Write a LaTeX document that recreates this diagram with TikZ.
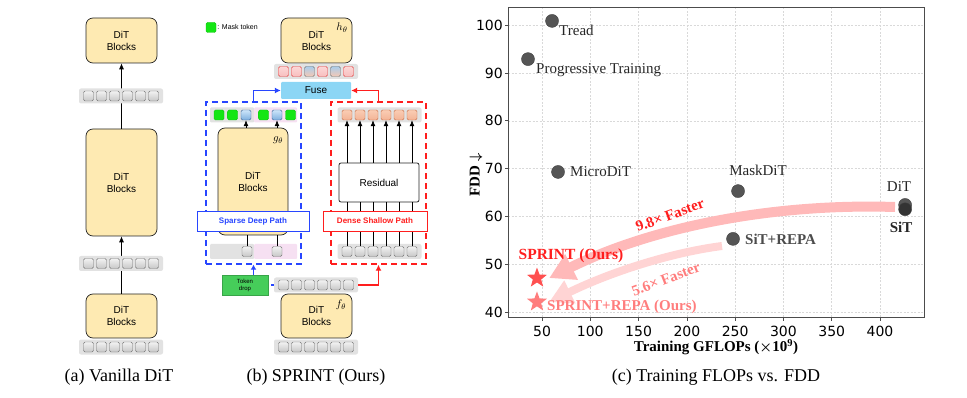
\documentclass[tikz,border=0pt]{standalone}
\usepackage{amsmath,amssymb}
\usepackage{fontspec}
\setmainfont{Liberation Serif}
\setsansfont{Liberation Sans}
\newfontfamily\tickfont{DejaVu Sans}
\usetikzlibrary{arrows.meta,calc,shapes.geometric}

\definecolor{ditfill}{RGB}{254,234,178}
\definecolor{rowgray}{RGB}{226,226,226}
\definecolor{pathblue}{RGB}{40,70,255}
\definecolor{pathred}{RGB}{255,30,30}
\definecolor{fusefill}{RGB}{140,214,245}
\definecolor{maskgreen}{RGB}{20,230,20}
\definecolor{dropgreen}{RGB}{70,205,90}
\definecolor{pinkbg}{RGB}{246,224,242}
\definecolor{dotgray}{RGB}{85,85,85}
\definecolor{arrowpink}{RGB}{255,185,185}
\definecolor{arrowlight}{RGB}{255,212,212}
\definecolor{sprintred}{RGB}{255,80,80}
\definecolor{repapink}{RGB}{255,125,125}

\tikzset{
  dit/.style={draw=black!85, fill=ditfill, rounded corners=7pt, line width=0.7pt,
    align=center, inner sep=0pt, minimum width=71pt,
    font=\sffamily\fontsize{10}{12}\selectfont},
  rowbg/.style={fill=rowgray, rounded corners=2pt, inner sep=0pt,
    minimum width=84pt, minimum height=15pt},
  tok/.style={draw=black!55, rounded corners=1.5pt, inner sep=0pt, minimum size=10pt,
    top color=white!95!black, bottom color=black!22},
  masktok/.style={tok, draw=maskgreen!85!black, top color=maskgreen, bottom color=maskgreen},
  bluetok/.style={tok, draw={rgb,255:red,60;green,100;blue,150},
    top color={rgb,255:red,205;green,230;blue,250}, bottom color={rgb,255:red,125;green,175;blue,222}},
  redtok/.style={tok, draw={rgb,255:red,225;green,60;blue,60},
    top color={rgb,255:red,252;green,215;blue,215}, bottom color={rgb,255:red,248;green,190;blue,190}},
  mixtok/.style={tok, draw=black!55,
    top color={rgb,255:red,170;green,205;blue,235}, bottom color={rgb,255:red,245;green,200;blue,180}},
  orangetok/.style={tok, draw={rgb,255:red,200;green,110;blue,70},
    top color={rgb,255:red,250;green,205;blue,180}, bottom color={rgb,255:red,243;green,180;blue,150}},
  flow/.style={-{Latex[length=6pt,width=5pt]}, line width=0.7pt},
  dashbox/.style={dashed, dash pattern=on 6pt off 4pt, line width=1.4pt, inner sep=0pt,
    minimum width=95pt, minimum height=162pt},
  pathlab/.style={fill=white, line width=0.8pt, inner sep=0pt, minimum height=20pt,
    font=\sffamily\bfseries\fontsize{8}{10}\selectfont},
  caption/.style={font=\fontsize{18}{20}\selectfont},
  grid/.style={dashed, dash pattern=on 2pt off 1.5pt, black!15, line width=0.5pt},
  ticklab/.style={font=\tickfont\fontsize{14}{16}\selectfont, inner sep=0pt},
  plotlab/.style={font=\fontsize{15}{17}\selectfont, text=black!85, inner sep=0pt},
  dot/.style={circle, fill=dotgray, draw=black!75, line width=0.4pt, minimum size=13pt, inner sep=0pt},
  starpt/.style={star, star points=5, star point ratio=2.4, minimum size=21pt, inner sep=0pt},
}

\begin{document}
\begin{tikzpicture}[x=1pt,y=-1pt]
\useasboundingbox (0,0) rectangle (967,398);

% ---------------- (a) Vanilla DiT ----------------
\node[dit, minimum height=45pt] (a3) at (121.5,40.5) {DiT\\Blocks};
\node[dit, minimum height=107pt] (a2) at (121.5,182.5) {DiT\\Blocks};
\node[dit, minimum height=44pt] (a1) at (121.5,316) {DiT\\Blocks};
\draw[flow] (a1) -- (a2);
\draw[flow] (a2) -- (a3);

% token rows
\foreach \r/\yy in {2/96, 1/263.5, 0/347} {
  \node[rowbg] (ra\r) at (121,\yy) {};
  \foreach \k in {1,...,6}
    \node[tok] (ta\r-\k) at ({121+(\k-3.5)*13},\yy) {};
}
\node[caption] (capa) at (119,377) {(a) Vanilla DiT};

% ---------------- (b) SPRINT ----------------
% legend
\node[masktok] (leg) at (211,27.5) {};
\node[anchor=west, font=\sffamily\fontsize{7}{8}\selectfont, inner sep=1pt] (legtxt) at (leg.east) {: Mask token};

% top block and fused tokens
\node[dit, minimum height=45pt] (h) at (316.5,40.5) {DiT\\Blocks};
\node[font=\fontsize{11}{12}\selectfont] (hlab) at (342,28) {$h_\theta$};
\node[rowbg] (rh) at (316,71.5) {};
\foreach \k/\s in {1/redtok,2/redtok,3/mixtok,4/redtok,5/mixtok,6/redtok}
  \node[\s] (th\k) at ({316+(\k-3.5)*13},71.5) {};
\node[fill=fusefill, rounded corners=1pt, minimum width=70pt, minimum height=17pt, inner sep=0pt,
  font=\sffamily\fontsize{10}{12}\selectfont] (fuse) at (316,90.5) {Fuse};

% dashed paths
\node[dashbox, draw=pathblue] (sbox) at (253.5,183) {};
\node[dashbox, draw=pathred] (dbox) at (378.5,183) {};
\draw[pathblue, line width=1.6pt, -{Latex[length=6pt,width=6pt]}] (sbox.north) |- (fuse.west);
\draw[pathred, line width=1.6pt, -{Latex[length=6pt,width=6pt]}] (dbox.north) |- (fuse.east);

% sparse deep path
\node[dit, minimum width=70pt, minimum height=107pt] (g) at (253,181.5) {DiT\\Blocks};
\node[font=\fontsize{11}{12}\selectfont] (glab) at (278,140) {$g_\theta$};
\node[rowbg, minimum width=44pt, rounded corners=1pt] (rgl) at (232,115) {};
\node[rowbg, fill=pinkbg, minimum width=43pt, rounded corners=1pt] (rgr) at (275.5,115) {};
\foreach \k/\xx/\s in {1/219/masktok,2/232.5/masktok,3/246/bluetok,4/263.5/masktok,5/277/bluetok,6/290.5/masktok}
  \node[\s] (tg\k) at (\xx,115) {};
\draw[flow] (tg3 |- g.north) -- (tg3.south);
\draw[flow] (tg5 |- g.north) -- (tg5.south);
\node[rowbg, minimum width=44pt, rounded corners=1pt] (rsl) at (232,251.5) {};
\node[rowbg, fill=pinkbg, minimum width=43pt, rounded corners=1pt] (rsr) at (275.5,251.5) {};
\node[tok] (ts1) at (247,251.5) {};
\node[tok] (ts2) at (277,251.5) {};
\draw[line width=0.7pt] (ts1.north) -- (ts1 |- g.south);
\draw[line width=0.7pt] (ts2.north) -- (ts2 |- g.south);
\node[pathlab, draw=pathblue, text=pathblue, minimum width=112pt] (sparse) at (253,221) {Sparse Deep Path};

% dense shallow path
\node[draw=black!85, fill=white, rounded corners=2pt, line width=0.8pt, minimum width=80pt,
  minimum height=39pt, font=\sffamily\fontsize{10}{12}\selectfont] (res) at (379,182.5) {Residual};
\node[rowbg] (ro) at (379.5,115) {};
\node[rowbg] (rl) at (379.5,251.5) {};
\foreach \k in {1,...,6} {
  \node[orangetok] (to\k) at ({379.5+(\k-3.5)*13},115) {};
  \node[tok] (tl\k) at ({379.5+(\k-3.5)*13},251.5) {};
  \draw[flow] (to\k |- res.north) -- (to\k.south);
  \draw[line width=0.7pt] (tl\k.north) -- (tl\k |- res.south);
}
\node[pathlab, draw=pathred, text=pathred, minimum width=104pt] (dense) at (375,221) {Dense Shallow Path};

% first blocks and token drop
\node[rowbg] (rf) at (316,285) {};
\foreach \k in {1,...,6}
  \node[tok] (tf\k) at ({316+(\k-3.5)*13},285) {};
\node[dit, minimum height=44pt] (f) at (316.5,316) {DiT\\Blocks};
\node[font=\fontsize{11}{12}\selectfont] (flab) at (341,305) {$f_\theta$};
\node[rowbg] (rb) at (316,347) {};
\foreach \k in {1,...,6}
  \node[tok] (tb\k) at ({316+(\k-3.5)*13},347) {};
\node[fill=dropgreen, draw=dropgreen!80!black, line width=0.4pt, minimum width=46pt, minimum height=20pt,
  inner sep=0pt, align=center, font=\sffamily\fontsize{6}{7}\selectfont] (drop) at (245,285) {Token\\drop};
\draw[pathblue, dashed, line width=1.3pt] (rf.west) -- (drop.east);
\draw[pathblue, line width=1.4pt, -{Latex[length=5pt,width=6pt]}] (sbox.south |- drop.north) -- (sbox.south);
\draw[pathred, line width=1.6pt, -{Latex[length=6pt,width=6pt]}] (rf.east) -| (dbox.south);
\node[caption] (capb) at (316,377) {(b) SPRINT (Ours)};

% ---------------- (c) FLOPs vs FDD ----------------
\begin{scope}[shift={(493.72,503.2)}, x=0.9657pt, y=4.78pt]
  \foreach \gx in {50,100,...,400} {
    \draw[grid] (\gx,38.95) -- (\gx,103.8);
    \draw[black!70, line width=0.6pt] (\gx,38.95) -- (\gx,38.2);
    \node[ticklab] (xt\gx) at (\gx,36) {\gx};
  }
  \foreach \gy in {40,50,...,100} {
    \draw[grid] (14.8,\gy) -- (445.6,\gy);
    \draw[black!70, line width=0.6pt] (14.8,\gy) -- (11.2,\gy);
    \node[ticklab, anchor=east] (yt\gy) at (9.6,\gy) {\gy};
  }
  \draw[black!70, line width=1pt] (14.8,38.95) rectangle (445.6,103.8);

  % data
  \node[dot] (tread) at (60.4,100.9) {};
  \node[dot] (prog) at (35.5,92.9) {};
  \node[dot] (micro) at (66.6,69.3) {};
  \node[dot] (mask) at (253,65.3) {};
  \node[dot] (repa) at (247.8,55.3) {};
  \node[dot] (dit) at (426,62.4) {};
  \node[dot, fill=black!80] (sit) at (426,61.5) {};
  \node[starpt, fill=sprintred] (sprint) at (44.8,47.1) {};
  \node[starpt, fill=repapink] (sprintrepa) at (44.8,42.1) {};
\end{scope}

% speed-up arrows
\coordinate (fromdit) at (895,207);
\coordinate (fromrepa) at (722,246);
\draw[arrowpink, line width=10pt, -{Triangle[length=25pt,width=27pt]}]
  (fromdit) .. controls (770,203) and (650,228) .. ([xshift=6pt]sprint.east);
\draw[arrowlight, line width=8pt, -{Triangle[length=23pt,width=24pt]}]
  (fromrepa) .. controls (675,252) and (615,270) .. ([xshift=6pt]sprintrepa.east);
\node[font=\bfseries\fontsize{15}{17}\selectfont, text=pathred, rotate=20] (fast1) at (670,215) {9.8× Faster};
\node[font=\bfseries\fontsize{15}{17}\selectfont, text=repapink, rotate=21] (fast2) at (666,279) {5.6× Faster};

% point labels
\node[plotlab, anchor=west] (treadlab) at (559,30) {Tread};
\node[plotlab, anchor=west] (proglab) at (536,70) {Progressive Training};
\node[plotlab, anchor=west] (microlab) at (570,172) {MicroDiT};
\node[plotlab] (masklab) at (758,170) {MaskDiT};
\node[plotlab] (ditlab) at (899,187) {DiT};
\node[plotlab, font=\bfseries\fontsize{15}{17}\selectfont] (sitlab) at (901,227) {SiT};
\node[plotlab, anchor=west, text=black!70, font=\bfseries\fontsize{15}{17}\selectfont] (repalab) at (745,239) {SiT+REPA};
\node[plotlab, text=pathred, font=\bfseries\fontsize{15.5}{17}\selectfont] (sprintlab) at (571,256) {SPRINT (Ours)};
\node[plotlab, anchor=west, text=repapink, font=\bfseries\fontsize{15}{17}\selectfont] (sprintrepalab) at (547,307) {SPRINT+REPA (Ours)};

% axis labels
\node[font=\bfseries\fontsize{15}{17}\selectfont, rotate=90] (ylab) at (476,175) {FDD $\boldsymbol{\downarrow}$};
\node[font=\bfseries\fontsize{15}{17}\selectfont] (xlab) at (716,347) {Training GFLOPs ($\boldsymbol{\times}\mathbf{10^9}$)};
\node[caption] (capc) at (716,377) {(c) Training FLOPs vs. FDD};

\end{tikzpicture}
\end{document}
